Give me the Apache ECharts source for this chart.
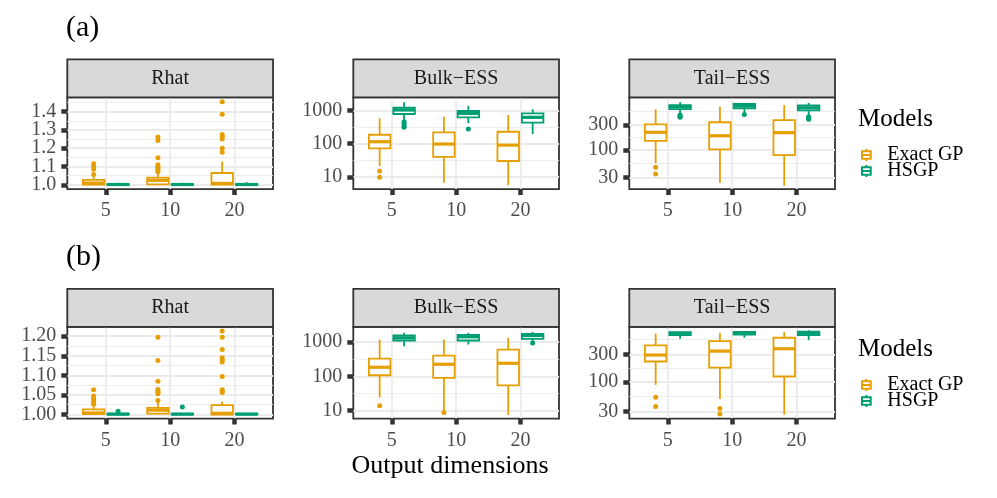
<!DOCTYPE html>
<html><head><meta charset="utf-8">
<script src="https://cdn.jsdelivr.net/npm/echarts@6/dist/echarts.min.js"></script>
<style>html,body{margin:0;padding:0;background:#fff}#c{width:997px;height:498px}</style>
</head><body><div id="c"></div>
<script>
// ---------------- data ----------------
const cats = ['5', '10', '20'];
const models = ['Exact GP', 'HSGP'];
const panelNames = ['Rhat', 'Bulk\u2212ESS', 'Tail\u2212ESS'];
const rowLabels = ['(a)', '(b)'];

// box stats per category: [lower whisker, Q1, median, Q3, upper whisker]
const aRhatExact = [[1.000, 1.002, 1.010, 1.027, 1.050], [1.000, 1.003, 1.025, 1.040, 1.065], [1.000, 1.001, 1.008, 1.065, 1.128]];
const aRhatHsgp  = [[0.999, 1.000, 1.002, 1.004, 1.012], [0.999, 1.000, 1.002, 1.004, 1.012], [0.999, 1.000, 1.002, 1.004, 1.015]];
const aRhatExactOut = [[1.056, 1.085, 1.100, 1.115], [1.072, 1.080, 1.090, 1.100, 1.110, 1.148, 1.242, 1.262], [1.178, 1.200, 1.250, 1.262, 1.275, 1.386, 1.454]];
const aRhatHsgpOut = [[], [], []];

const aBulkExact = [[21, 72, 115, 187, 589], [6.6, 40, 98, 221, 660], [5.6, 30, 91, 231, 740]];
const aBulkHsgp  = [[525, 794, 1050, 1230, 1800], [415, 630, 833, 980, 1420], [196, 433, 630, 833, 1100]];
const aBulkExactOut = [[9.6, 14.9], [], []];
const aBulkHsgpOut = [[316, 350, 400, 466], [279], []];

const aTailExact = [[56, 150, 218, 309, 598], [23.8, 103, 187, 339, 670], [20.8, 80, 214, 373, 722]];
const aTailHsgp  = [[502, 605, 670, 721, 813], [520, 625, 690, 755, 795], [466, 572, 640, 713, 795]];
const aTailExactOut = [[35, 47], [], []];
const aTailHsgpOut = [[421, 440, 466], [475], [385, 410, 432]];

const bRhatExact = [[1.000, 1.001, 1.004, 1.013, 1.020], [1.000, 1.002, 1.011, 1.017, 1.030], [1.000, 1.000, 1.003, 1.024, 1.033]];
const bRhatHsgp  = [[0.999, 1.000, 1.001, 1.002, 1.004], [0.999, 1.000, 1.001, 1.002, 1.004], [0.999, 1.000, 1.001, 1.002, 1.003]];
const bRhatExactOut = [[1.026, 1.030, 1.035, 1.040, 1.047, 1.063], [1.036, 1.053, 1.056, 1.060, 1.064, 1.085, 1.138, 1.197], [1.056, 1.060, 1.063, 1.097, 1.134, 1.140, 1.145, 1.166, 1.197, 1.213]];
const bRhatHsgpOut = [[1.008], [1.019], []];

const bBulkExact = [[24, 107, 184, 331, 1200], [9.5, 90, 225, 406, 1200], [7.3, 54, 241, 610, 1347]];
const bBulkHsgp  = [[763, 1122, 1347, 1573, 1890], [855, 1122, 1445, 1650, 1890], [1070, 1260, 1573, 1766, 2020]];
const bBulkExactOut = [[13.5], [8.6], []];
const bBulkHsgpOut = [[], [], [955]];

const bTailExact = [[88.5, 227, 295, 436, 697], [50, 178, 346, 517, 725], [26.6, 124, 380, 593, 743]];
const bTailHsgp  = [[570, 658, 700, 743, 755], [593, 670, 710, 750, 760], [537, 660, 710, 755, 805]];
const bTailExactOut = [[37, 53.5], [27.4, 34], []];
const bTailHsgpOut = [[], [], []];

// tick values
const rhatTicksA = [1.0, 1.1, 1.2, 1.3, 1.4];
const rhatMinorA = [1.05, 1.15, 1.25, 1.35, 1.45];
const rhatTicksB = [1.00, 1.05, 1.10, 1.15, 1.20];
const rhatMinorB = [1.025, 1.075, 1.125, 1.175];
const bulkTicks = [10, 100, 1000];
const bulkMinor = [31.62, 316.2];
const tailTicks = [30, 100, 300];
const tailMinor = [54.77, 173.2, 547.7];

// ---------------- layout / style ----------------
const F = 'Liberation Serif';
const colors = ['#E69F00', '#009E73'];
const offs = [-0.19, 0.19];
const BW = 0.335;
const colLeft = [67.3, 353.3, 629.3];
const panelW = 205.7;
const rowTop = [97.3, 326.8];
const panelH = 91.8;
const stripH = 38;

const panels = [
  {row: 0, col: 0, type: 'value', min: 0.977, max: 1.478, ticks: rhatTicksA, minor: rhatMinorA, fmt: v => v.toFixed(1), box: [aRhatExact, aRhatHsgp], out: [aRhatExactOut, aRhatHsgpOut]},
  {row: 0, col: 1, type: 'log', min: Math.pow(10, 0.627), max: Math.pow(10, 3.406), ticks: bulkTicks, minor: bulkMinor, fmt: v => String(Math.round(v)), box: [aBulkExact, aBulkHsgp], out: [aBulkExactOut, aBulkHsgpOut]},
  {row: 0, col: 2, type: 'log', min: Math.pow(10, 1.254), max: Math.pow(10, 3.006), ticks: tailTicks, minor: tailMinor, fmt: v => String(Math.round(v)), box: [aTailExact, aTailHsgp], out: [aTailExactOut, aTailHsgpOut]},
  {row: 1, col: 0, type: 'value', min: 0.9895, max: 1.224, ticks: rhatTicksB, minor: rhatMinorB, fmt: v => v.toFixed(2), box: [bRhatExact, bRhatHsgp], out: [bRhatExactOut, bRhatHsgpOut]},
  {row: 1, col: 1, type: 'log', min: Math.pow(10, 0.756), max: Math.pow(10, 3.453), ticks: bulkTicks, minor: bulkMinor, fmt: v => String(Math.round(v)), box: [bBulkExact, bBulkHsgp], out: [bBulkExactOut, bBulkHsgpOut]},
  {row: 1, col: 2, type: 'log', min: Math.pow(10, 1.355), max: Math.pow(10, 2.965), ticks: tailTicks, minor: tailMinor, fmt: v => String(Math.round(v)), box: [bTailExact, bTailHsgp], out: [bTailExactOut, bTailHsgpOut]}
];

function makeBox(color) {
  return function (params, api) {
    const x = api.value(0);
    const lo = api.coord([x, api.value(1)]);
    const q1 = api.coord([x, api.value(2)]);
    const md = api.coord([x, api.value(3)]);
    const q3 = api.coord([x, api.value(4)]);
    const hi = api.coord([x, api.value(5)]);
    const l = api.coord([x - BW / 2, api.value(3)])[0];
    const r = api.coord([x + BW / 2, api.value(3)])[0];
    const ls = {stroke: color, lineWidth: 1.8, fill: null};
    return {type: 'group', children: [
      {type: 'line', shape: {x1: lo[0], y1: lo[1], x2: lo[0], y2: q1[1]}, style: ls},
      {type: 'line', shape: {x1: hi[0], y1: q3[1], x2: hi[0], y2: hi[1]}, style: ls},
      {type: 'rect', shape: {x: l, y: q3[1], width: r - l, height: q1[1] - q3[1]}, style: {stroke: color, lineWidth: 1.8, fill: '#fff'}},
      {type: 'line', shape: {x1: l, y1: md[1], x2: r, y2: md[1]}, style: {stroke: color, lineWidth: 3.2}}
    ]};
  };
}

const tickStyle = {color: '#333333', width: 4.5};
const grid = [], xAxis = [], yAxis = [], series = [], graphic = [];
panels.forEach((p, k) => {
  grid.push({left: colLeft[p.col], top: rowTop[p.row], width: panelW, height: panelH,
    show: true, backgroundColor: '#fff', borderColor: '#333333', borderWidth: 1.8,
    containLabel: false, outerBoundsMode: 'none'});
  xAxis.push({type: 'value', gridIndex: k, min: 0.4, max: 3.6,
    axisLine: {show: false},
    axisTick: {show: true, customValues: [1, 2, 3], length: 6, lineStyle: tickStyle},
    axisLabel: {customValues: [1, 2, 3], formatter: v => cats[Math.round(v) - 1], margin: 12,
      showMinLabel: true, showMaxLabel: true,
      color: '#4D4D4D', fontSize: 20, fontFamily: F},
    splitLine: {show: true, lineStyle: {color: '#EBEBEB', width: 1.8}}});
  const base = {gridIndex: k, type: p.type, min: p.min, max: p.max, position: 'left'};
  if (p.type === 'log') base.logBase = 10;
  // major ticks split over two axes (even / odd positions) so none get thinned out
  [0, 1].forEach(par => {
    const vals = p.ticks.filter((v, i) => i % 2 === par);
    yAxis.push(Object.assign({}, base, {
      axisLine: {show: false},
      axisTick: {show: true, customValues: vals, length: 6, lineStyle: tickStyle},
      axisLabel: {customValues: vals, formatter: p.fmt, margin: 11, showMinLabel: true, showMaxLabel: true,
        color: '#4D4D4D', fontSize: 20, fontFamily: F},
      splitLine: {show: true, lineStyle: {color: '#EBEBEB', width: 1.8}}}));
  });
  yAxis.push(Object.assign({}, base, {
    axisLine: {show: false},
    axisTick: {show: false, customValues: p.minor},
    axisLabel: {show: false, customValues: p.minor},
    splitLine: {show: true, lineStyle: {color: '#EBEBEB', width: 0.9}}}));
  [0, 1].forEach(m => {
    series.push({type: 'custom', name: models[m], xAxisIndex: k, yAxisIndex: 3 * k, clip: false,
      itemStyle: {color: colors[m]}, encode: {x: 0, y: [1, 2, 3, 4, 5]}, silent: true,
      data: p.box[m].map((s, i) => [i + 1 + offs[m]].concat(s)), renderItem: makeBox(colors[m]), z: 3});
    series.push({type: 'scatter', name: models[m], xAxisIndex: k, yAxisIndex: 3 * k, symbolSize: 5,
      itemStyle: {color: colors[m], opacity: 1}, silent: true, z: 4,
      data: p.out[m].flatMap((arr, i) => arr.map(v => [i + 1 + offs[m], v]))});
  });
  const sx = colLeft[p.col], sy = rowTop[p.row] - stripH;
  graphic.push({type: 'rect', shape: {x: sx, y: sy, width: panelW, height: stripH},
    style: {fill: '#D9D9D9', stroke: '#333333', lineWidth: 1.8}, z: 10});
  graphic.push({type: 'text', x: sx + panelW / 2, y: sy + stripH / 2,
    style: {text: panelNames[p.col], fill: '#1A1A1A', font: '20px "' + F + '"', textAlign: 'center', textVerticalAlign: 'middle'}, z: 11});
});

const ICON = 'path://M4,0L4,2M0,2L8,2L8,9L0,9ZM0,5.5L8,5.5M4,9L4,11';
function legendAt(top) {
  return {orient: 'vertical', left: 856, top: top, itemWidth: 10, itemHeight: 12, itemGap: -4,
    selectedMode: false,
    data: models.map((n, m) => ({name: n, icon: ICON,
      itemStyle: {color: '#fff', borderColor: colors[m], borderWidth: 2}})),
    textStyle: {fontFamily: F, fontSize: 20, color: '#000', padding: [0, 0, 0, 11]}};
}
const tStyle = size => ({fontFamily: F, fontSize: size, fontWeight: 'normal', color: '#000'});

const option = {
  animation: false,
  backgroundColor: '#fff',
  title: [
    {text: rowLabels[0], left: 61, top: 8, textStyle: tStyle(30)},
    {text: rowLabels[1], left: 61, top: 237, textStyle: tStyle(30)},
    {text: 'Models', left: 853, top: 102, textStyle: tStyle(25)},
    {text: 'Models', left: 853, top: 332, textStyle: tStyle(25)},
    {text: 'Output dimensions', left: 445, textAlign: 'center', top: 448, textStyle: tStyle(26)}
  ],
  legend: [legendAt(140), legendAt(370)],
  grid: grid, xAxis: xAxis, yAxis: yAxis, series: series, graphic: graphic
};

const chart = echarts.init(document.getElementById('c'));
chart.setOption(option);
</script></body></html>
